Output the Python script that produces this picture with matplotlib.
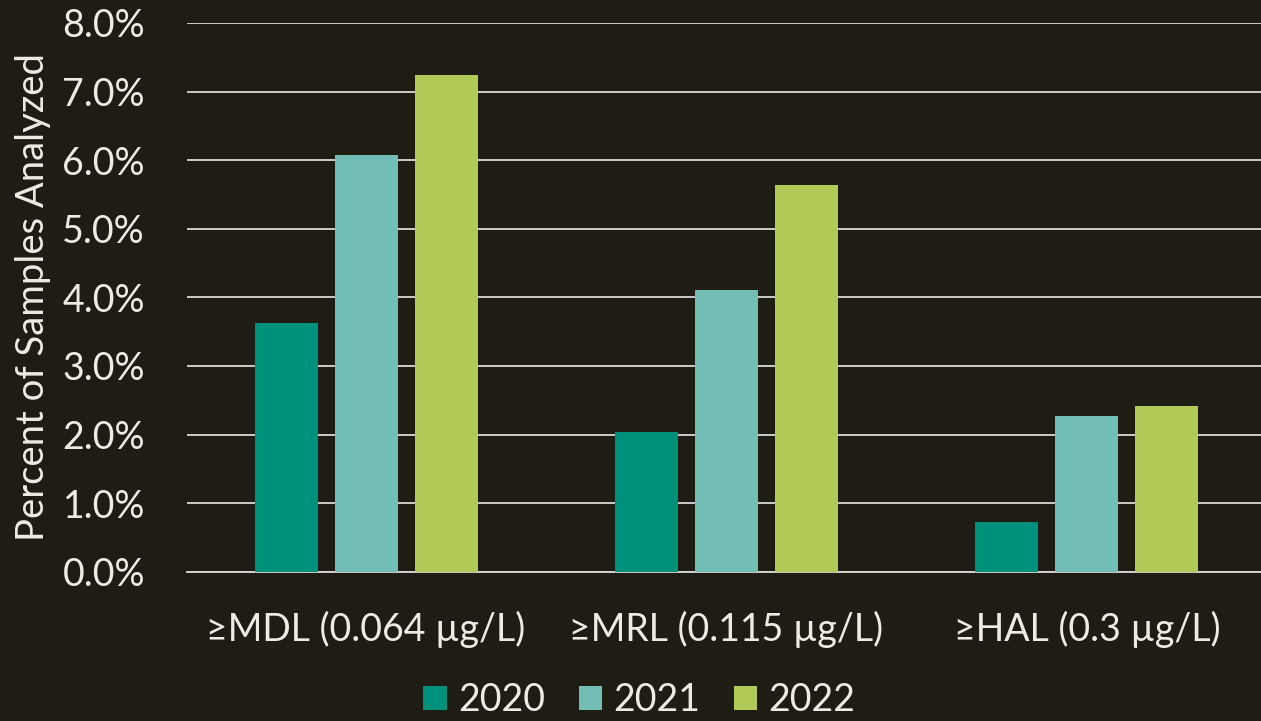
import numpy as np
import matplotlib
matplotlib.use("Agg")
import matplotlib.pyplot as plt
from matplotlib.patches import Patch

# detection thresholds and share of samples at or above each, by year
categories = ["\u2265MDL (0.064 \u00b5g/L)", "\u2265MRL (0.115 \u00b5g/L)", "\u2265HAL (0.3 \u00b5g/L)"]
years = ["2020", "2021", "2022"]
pct_2020 = [3.63, 2.03, 0.72]
pct_2021 = [6.08, 4.10, 2.27]
pct_2022 = [7.24, 5.64, 2.41]
y_ticks = [0, 1, 2, 3, 4, 5, 6, 7, 8]

colors = ["#00917D", "#72BDB6", "#B1CA57"]
bg = "#1F1C13"
fg = "#EDEBE3"
grid_color = "#D9D9D9"

plt.rcParams["font.family"] = ["Lato", "DejaVu Sans"]

fig = plt.figure(figsize=(12.61, 7.21), dpi=100, facecolor=bg)
ax = fig.add_axes([0.148, 0.2071, 0.852, 0.7610])
ax.set_facecolor(bg)

x = np.arange(len(categories))
width = 0.175
offset = 0.222
for i, (vals, c) in enumerate(zip([pct_2020, pct_2021, pct_2022], colors)):
    ax.bar(x + (i - 1) * offset, vals, width, color=c, zorder=3)

ax.set_xlim(-0.498, 2.483)
ax.set_ylim(0, 8)
ax.set_yticks(y_ticks)
ax.set_yticklabels([f"{v:.1f}%" for v in y_ticks])
ax.set_xticks(x)
ax.set_xticklabels(categories)

ax.yaxis.grid(True, color=grid_color, linewidth=1.3, zorder=0)
ax.set_axisbelow(True)
for side in ["top", "right", "left"]:
    ax.spines[side].set_visible(False)
ax.spines["bottom"].set_color(grid_color)
ax.spines["bottom"].set_linewidth(1.3)

ax.tick_params(axis="both", length=0, colors=fg, labelsize=27)
ax.tick_params(axis="y", pad=30)
ax.tick_params(axis="x", pad=28)

fig.text(0.026, 0.588, "Percent of Samples Analyzed", rotation=90,
         ha="center", va="center", color=fg, fontsize=27.5)

handles = [Patch(facecolor=c, edgecolor="none", label=y) for c, y in zip(colors, years)]
fig.legend(handles=handles, loc="center", bbox_to_anchor=(0.507, 0.029), ncol=3,
           frameon=False, fontsize=27, labelcolor=fg,
           handlelength=0.62, handleheight=0.62, handletextpad=0.3,
           columnspacing=0.9, borderaxespad=0)

fig.savefig("out.png", dpi=100, facecolor=bg)
